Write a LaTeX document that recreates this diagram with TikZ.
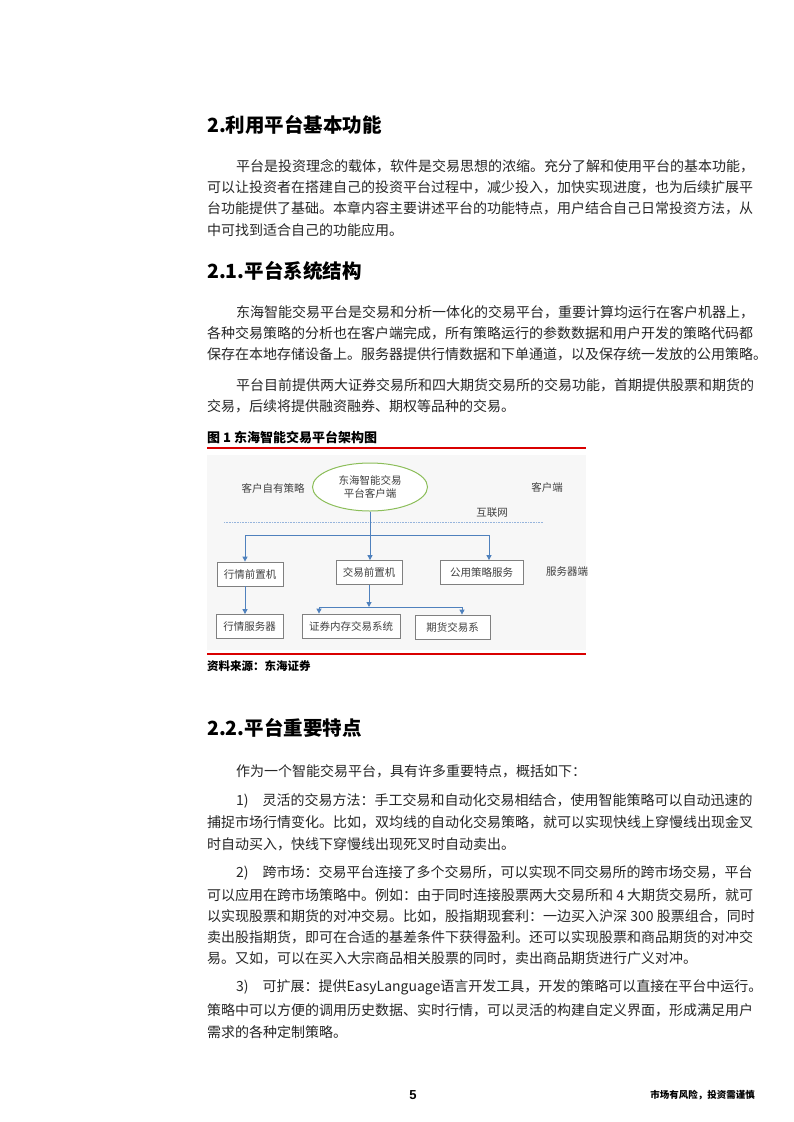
\documentclass[tikz,border=0pt]{standalone}
\usepackage{fontspec}
\setmainfont{Liberation Sans}
\newfontfamily\cjk{Noto Sans CJK SC}
\usetikzlibrary{arrows.meta,shapes.geometric}
\begin{document}
\begin{tikzpicture}[x=1pt,y=-1pt,
 body/.style={anchor=west,inner sep=0pt,font=\cjk\fontsize{14}{16}\selectfont,text=black!85},
 head/.style={anchor=west,inner sep=0pt,font=\cjk\bfseries\fontsize{19.5}{22}\selectfont},
 dtext/.style={inner sep=0pt,font=\cjk\fontsize{10.5}{12}\selectfont,text=black!75},
 dbox/.style={draw=black!50,line width=0.8pt,fill=white,minimum height=24pt,inner sep=2pt,font=\cjk\fontsize{10.5}{12}\selectfont,text=black!75},
 arr/.style={color={rgb,255:red,79;green,129;blue,189},line width=1pt,-{Triangle[length=5pt,width=5pt]}},
 ln/.style={color={rgb,255:red,79;green,129;blue,189},line width=1pt}]
\useasboundingbox (0,0) rectangle (793,1122);
\fill[white] (0,0) rectangle (793,1122);
% section 2
\node[head] (h1) at (207,125) {2.利用平台基本功能};
\node[body] (p11) at (236,166) {平台是投资理念的载体，软件是交易思想的浓缩。充分了解和使用平台的基本功能，};
\node[body] (p12) at (207,187) {可以让投资者在搭建自己的投资平台过程中，减少投入，加快实现进度，也为后续扩展平};
\node[body] (p13) at (207,208) {台功能提供了基础。本章内容主要讲述平台的功能特点，用户结合自己日常投资方法，从};
\node[body] (p14) at (207,230) {中可找到适合自己的功能应用。};
\node[head] (h2) at (207,271) {2.1.平台系统结构};
\node[body] (p21) at (236,312) {东海智能交易平台是交易和分析一体化的交易平台，重要计算均运行在客户机器上，};
\node[body] (p22) at (207,333) {各种交易策略的分析也在客户端完成，所有策略运行的参数数据和用户开发的策略代码都};
\node[body] (p23) at (207,354) {保存在本地存储设备上。服务器提供行情数据和下单通道，以及保存统一发放的公用策略。};
\node[body] (p31) at (236,385) {平台目前提供两大证券交易所和四大期货交易所的交易功能，首期提供股票和期货的};
\node[body] (p32) at (207,406) {交易，后续将提供融资融券、期权等品种的交易。};
% figure
\node[anchor=west,inner sep=0pt,font=\cjk\bfseries\fontsize{13}{14}\selectfont] (ft) at (207,437) {图 1 东海智能交易平台架构图};
\draw[red!85!black,line width=1.6pt] (207,448) -- (586,448);
\fill[black!3] (207,455) rectangle (586,650);
\node[draw={rgb,255:red,140;green,190;blue,90},line width=1pt,ellipse,fill=white,minimum width=115pt,minimum height=48pt,inner sep=0pt,align=center,font=\cjk\fontsize{10.5}{13}\selectfont,text=black!75] (ell) at (370,487) {东海智能交易\\平台客户端};
\node[dtext] (zy) at (273,488) {客户自有策略};
\node[dtext] (kh) at (547,487) {客户端};
\node[dtext] (hl) at (492,513) {互联网};
\draw[densely dotted,color={rgb,255:red,150;green,180;blue,220},line width=0.6pt] (224,522) -- (543,522);
\node[dbox,minimum width=66pt] (b1) at (250,574) {行情前置机};
\node[dbox,minimum width=66pt] (b2) at (369,572.5) {交易前置机};
\node[dbox,minimum width=83pt] (b3) at (481.5,572.5) {公用策略服务};
\node[dtext] (fw) at (567,572) {服务器端};
\node[dbox,minimum width=67pt] (c1) at (249.5,626.5) {行情服务器};
\node[dbox,minimum width=98pt] (c2) at (351,626) {证券内存交易系统};
\node[dbox,minimum width=75pt] (c3) at (452.5,627) {期货交易系};
\coordinate (j1) at (370,535);
\coordinate (jl) at (245,535);
\coordinate (jr) at (489,535);
\draw[ln] (ell.south) -- (j1);
\draw[ln] (jl) -- (jr);
\draw[arr] (jl) -- (jl |- b1.north);
\draw[arr] (j1) -- (j1 |- b2.north);
\draw[arr] (jr) -- (jr |- b3.north);
\draw[arr] (b1.south -| jl) -- (jl |- c1.north);
\coordinate (j2) at (369,607);
\coordinate (j2l) at (319,607);
\coordinate (j2r) at (462,607);
\draw[arr] (b2.south) -- (j2);
\draw[ln] (j2l) -- (j2r);
\draw[arr] (j2l) -- (j2l |- c2.north);
\draw[arr] (j2r) -- (j2r |- c3.north);
\draw[red!85!black,line width=1.6pt] (207,654) -- (586,654);
\node[anchor=west,inner sep=0pt,font=\cjk\bfseries\fontsize{11.5}{13}\selectfont] (src) at (207,666) {资料来源：东海证券};
% section 2.2
\node[head] (h3) at (207,728) {2.2.平台重要特点};
\node[body] (q0) at (236,771) {作为一个智能交易平台，具有许多重要特点，概括如下：};
\node[body] (q11) at (236,801) {1)\quad 灵活的交易方法：手工交易和自动化交易相结合，使用智能策略可以自动迅速的};
\node[body] (q12) at (207,822) {捕捉市场行情变化。比如，双均线的自动化交易策略，就可以实现快线上穿慢线出现金叉};
\node[body] (q13) at (207,844) {时自动买入，快线下穿慢线出现死叉时自动卖出。};
\node[body] (q21) at (236,873) {2)\quad 跨市场：交易平台连接了多个交易所，可以实现不同交易所的跨市场交易，平台};
\node[body] (q22) at (207,895) {可以应用在跨市场策略中。例如：由于同时连接股票两大交易所和 4 大期货交易所，就可};
\node[body] (q23) at (207,916) {以实现股票和期货的对冲交易。比如，股指期现套利：一边买入沪深 300 股票组合，同时};
\node[body] (q24) at (207,937) {卖出股指期货，即可在合适的基差条件下获得盈利。还可以实现股票和商品期货的对冲交};
\node[body] (q25) at (207,958) {易。又如，可以在买入大宗商品相关股票的同时，卖出商品期货进行广义对冲。};
\node[body] (q31) at (236,987) {3)\quad 可扩展：提供EasyLanguage语言开发工具，开发的策略可以直接在平台中运行。};
\node[body] (q32) at (207,1010) {策略中可以方便的调用历史数据、实时行情，可以灵活的构建自定义界面，形成满足用户};
\node[body] (q33) at (207,1032) {需求的各种定制策略。};
% footer
\node[inner sep=0pt,font=\bfseries\fontsize{13}{14}\selectfont] (pg) at (413,1095) {5};
\node[anchor=east,inner sep=0pt,font=\cjk\bfseries\fontsize{9.5}{11}\selectfont] (ft2) at (755,1095) {市场有风险，投资需谨慎};
\end{tikzpicture}
\end{document}
